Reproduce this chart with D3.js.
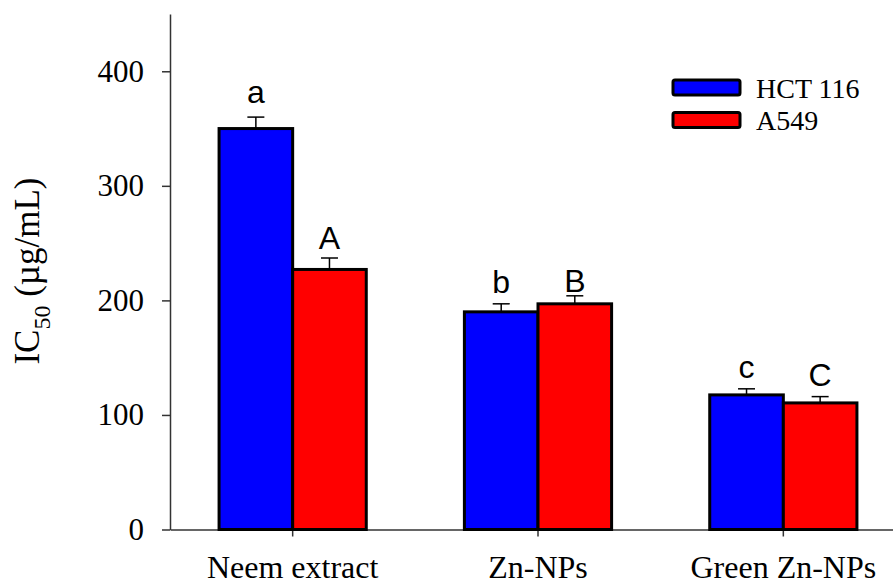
<!DOCTYPE html>
<html>
<head>
<meta charset="utf-8">
<script src="https://cdn.jsdelivr.net/npm/d3@7"></script>
<style>
  html, body { margin: 0; padding: 0; background: #fff; }
  svg { display: block; }
</style>
</head>
<body>
<svg id="chart" width="893" height="586"></svg>
<script>
// ---- data ----
const categories = ["Neem extract", "Zn-NPs", "Green Zn-NPs"];
const seriesNames = ["HCT 116", "A549"];
const hctValues = [350, 190, 117.5];
const a549Values = [227, 197, 110.5];
const hctErrors = [10, 7, 5.3];
const a549Errors = [10, 7, 5.5];
const hctLetters = ["a", "b", "c"];
const a549Letters = ["A", "B", "C"];
const hctLetterAt = [372, 206.5, 132];   // baseline value of significance letters
const a549LetterAt = [245, 207, 125];
const yTicks = [0, 100, 200, 300, 400];
const yTitleMain = "IC";
const yTitleSub = "50";
const yTitleRest = " (µg/mL)";

const colors = { "HCT 116": "#0000ff", "A549": "#ff0000" };
const serif = "'Times New Roman', 'Liberation Serif', serif";
const sans = "Arial, 'Liberation Sans', sans-serif";

const svg = d3.select("#chart");

const x0Left = 170, x0Right = 906, yBottom = 529.5, yTop = 14;

const y = d3.scaleLinear().domain([0, 450]).range([yBottom, yTop]);
const x0 = d3.scaleBand().domain(categories).range([x0Left, x0Right])
  .paddingInner(0.4).paddingOuter(0.2);
const x1 = d3.scaleBand().domain(seriesNames).range([0, x0.bandwidth()]).padding(0);

const rows = [];
categories.forEach((c, i) => {
  rows.push({ cat: c, s: "HCT 116", v: hctValues[i], e: hctErrors[i], l: hctLetters[i], la: hctLetterAt[i] });
  rows.push({ cat: c, s: "A549", v: a549Values[i], e: a549Errors[i], l: a549Letters[i], la: a549LetterAt[i] });
});
const cx = d => x0(d.cat) + x1(d.s) + x1.bandwidth() / 2;

// error bars (upper only)
const eb = svg.append("g").attr("stroke", "#000").attr("stroke-width", 1.5).attr("fill", "none");
eb.selectAll("line.stem").data(rows).join("line")
  .attr("x1", cx).attr("x2", cx)
  .attr("y1", d => y(d.v)).attr("y2", d => y(d.v + d.e));
eb.selectAll("line.cap").data(rows).join("line")
  .attr("x1", d => cx(d) - 8.5).attr("x2", d => cx(d) + 8.5)
  .attr("y1", d => y(d.v + d.e)).attr("y2", d => y(d.v + d.e));

// axes
const yAxis = svg.append("g").attr("transform", `translate(${x0Left},0)`)
  .call(d3.axisLeft(y).tickValues(yTicks).tickSize(8).tickSizeOuter(0).tickPadding(18));
yAxis.selectAll("path, line").attr("stroke", "#333").attr("stroke-width", 1.5);
yAxis.selectAll("text").attr("font-family", serif).attr("font-size", 31).attr("fill", "#000");

const xAxis = svg.append("g").attr("transform", `translate(0,${yBottom})`)
  .call(d3.axisBottom(x0).tickSize(7).tickSizeOuter(0));
xAxis.selectAll("path, line").attr("stroke", "#333").attr("stroke-width", 1.5);
xAxis.selectAll("text").attr("font-family", serif).attr("font-size", 32).attr("fill", "#000")
  .attr("dy", null).attr("y", 578 - yBottom);

// bars
svg.append("g").selectAll("rect").data(rows).join("rect")
  .attr("x", d => x0(d.cat) + x1(d.s))
  .attr("y", d => y(d.v))
  .attr("width", x1.bandwidth())
  .attr("height", d => y(0) - y(d.v))
  .attr("fill", d => colors[d.s])
  .attr("stroke", "#000").attr("stroke-width", 3);

// significance letters
svg.append("g").selectAll("text").data(rows).join("text")
  .attr("x", cx).attr("y", d => y(d.la))
  .attr("text-anchor", "middle")
  .attr("font-family", sans).attr("font-size", 32).attr("fill", "#000")
  .text(d => d.l);

// y-axis title
const title = svg.append("text")
  .attr("transform", "translate(38.5,271) rotate(-90)")
  .attr("text-anchor", "middle")
  .attr("font-family", serif).attr("font-size", 35).attr("fill", "#000");
title.append("tspan").text(yTitleMain);
title.append("tspan").attr("font-size", 24).attr("dy", 11.5).text(yTitleSub);
title.append("tspan").attr("dy", -11.5).text(yTitleRest);

// legend
const lg = svg.append("g");
seriesNames.forEach((s, i) => {
  const g = lg.append("g").attr("transform", `translate(673,${80 + i * 32.5})`);
  g.append("rect").attr("width", 67).attr("height", 15).attr("rx", 2)
    .attr("fill", colors[s]).attr("stroke", "#000").attr("stroke-width", 3);
  g.append("text").attr("x", 83).attr("y", 17.5)
    .attr("font-family", serif).attr("font-size", 28).attr("fill", "#000").text(s);
});
</script>
</body>
</html>
